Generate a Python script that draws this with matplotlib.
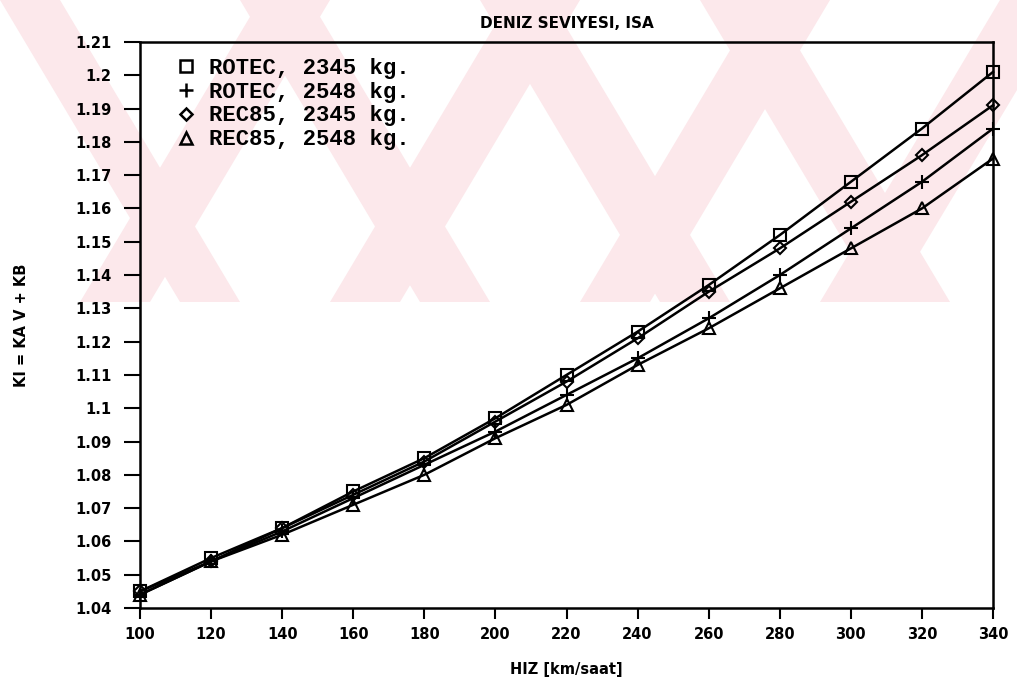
import numpy as np
import matplotlib
matplotlib.use("Agg")
import matplotlib.pyplot as plt
from matplotlib.lines import Line2D
from matplotlib.patches import Polygon
from matplotlib.ticker import FuncFormatter

# hiz (km/saat)
hiz = [100, 120, 140, 160, 180, 200, 220, 240, 260, 280, 300, 320, 340]

rotec_2345 = [1.045, 1.055, 1.064, 1.075, 1.085, 1.097, 1.110, 1.123, 1.137, 1.152, 1.168, 1.184, 1.201]
rotec_2548 = [1.044, 1.054, 1.063, 1.073, 1.083, 1.093, 1.104, 1.115, 1.127, 1.140, 1.154, 1.168, 1.184]
rec85_2345 = [1.045, 1.054, 1.064, 1.074, 1.084, 1.096, 1.108, 1.121, 1.135, 1.148, 1.162, 1.176, 1.191]
rec85_2548 = [1.044, 1.054, 1.062, 1.071, 1.080, 1.091, 1.101, 1.113, 1.124, 1.136, 1.148, 1.160, 1.175]

labels = ["ROTEC, 2345 kg.", "ROTEC, 2548 kg.", "REC85, 2345 kg.", "REC85, 2548 kg."]
markers = ["s", "+", "D", "^"]
msizes = [8, 10, 6, 8]

fig = plt.figure(figsize=(10.17, 6.92), dpi=100)

# faint pink watermark stripes behind the chart (scanned thesis page)
pink = "#fce8eb"
W, H = 1017, 692
ybot = 302
bands = [
    [(0, 0), (60, 0), (240, ybot), (180, ybot)],
    [(240, 0), (310, 0), (490, ybot), (420, ybot)],
    [(480, 0), (550, 0), (730, ybot), (660, ybot)],
    [(700, 0), (770, 0), (950, ybot), (880, ybot)],
    [(330, 0), (260, 0), (80, ybot), (150, ybot)],
    [(580, 0), (510, 0), (330, ybot), (400, ybot)],
    [(830, 0), (760, 0), (580, ybot), (650, ybot)],
    [(1017, 0), (1000, 0), (820, ybot), (890, ybot), (1017, 90)],
]
for b in bands:
    pts = [(x / W, 1 - y / H) for x, y in b]
    fig.patches.append(Polygon(pts, closed=True, transform=fig.transFigure,
                               facecolor=pink, edgecolor="none", zorder=0))

ax = fig.add_axes([140 / W, 1 - 608 / H, (993 - 140) / W, (608 - 42) / H])
ax.set_zorder(2)
ax.patch.set_alpha(0)

series = [rotec_2345, rotec_2548, rec85_2345, rec85_2548]
for vals, m, ms in zip(series, markers, msizes):
    ax.plot(hiz, vals, color="black", lw=1.8, marker=m, ms=ms,
            mfc="none", mec="black", mew=1.5, clip_on=False)

ax.set_xlim(100, 340)
ax.set_ylim(1.04, 1.21)
ax.set_xticks(hiz)
ax.set_yticks(np.round(np.arange(1.04, 1.2101, 0.01), 2))
ax.yaxis.set_major_formatter(FuncFormatter(lambda v, p: "%g" % round(v, 2)))
ax.tick_params(direction="out", width=1.5, labelsize=10.5)
ax.tick_params(axis="y", length=11.5, pad=9)
ax.tick_params(axis="x", length=8, pad=6)
for t in ax.get_xticklabels() + ax.get_yticklabels():
    t.set_fontweight("bold")
for s in ax.spines.values():
    s.set_linewidth(1.8)

ax.set_xlabel("HIZ [km/saat]", fontsize=10.5, fontweight="bold",
              family="Liberation Sans Narrow", labelpad=14)
ax.set_ylabel("KI = KA V + KB", fontsize=10.5, fontweight="bold", labelpad=33)
ax.set_title("DENIZ SEVIYESI, ISA", fontsize=11, fontweight="bold",
             family="Liberation Sans Narrow", pad=10)

handles = [Line2D([], [], color="black", ls="none", marker=m, ms=ms,
                  mfc="none", mew=1.8) for m, ms in zip(markers, msizes)]
ax.legend(handles, labels, loc="upper left", frameon=False,
          prop={"family": "Liberation Mono", "size": 16, "weight": "bold"},
          handlelength=1.0, handletextpad=0.55, labelspacing=0.13,
          borderaxespad=0, bbox_to_anchor=(0.03, 0.988))

fig.savefig("out.png", dpi=100)
